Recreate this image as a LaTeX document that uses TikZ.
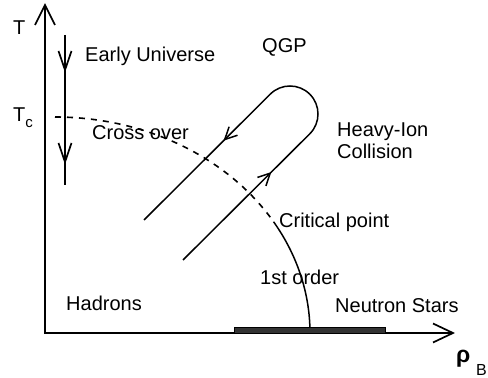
\documentclass[tikz,border=0pt]{standalone}
\usepackage{fontspec}
\setmainfont{Liberation Sans}
\usetikzlibrary{decorations.markings}
\newcommand\mychev[3]{\draw[line width=#3,line join=miter,line cap=butt] (-#1,#2) -- (0,0) -- (-#1,-#2);}
\newcommand\mychevrev[3]{\draw[line width=#3,line join=miter,line cap=butt] (#1,#2) -- (0,0) -- (#1,-#2);}
\tikzset{
  axis/.style={line width=1.7pt,postaction={decorate},decoration={markings,
     mark=at position 0 with {\mychevrev{20}{10}{1.7pt}},
     mark=at position 1 with {\mychev{20}{9.5}{1.7pt}}}},
  curve/.style={line width=1.5pt},
  dashcurve/.style={line width=1.6pt,dash pattern=on 6pt off 6pt},
  lbl/.style={inner sep=0pt,anchor=base west,font=\fontsize{20}{24}\selectfont},
  euline/.style={line width=1.7pt,postaction={decorate},decoration={markings,
     mark=at position 35pt with {\mychev{19}{6.5}{1.7pt}},
     mark=at position 127pt with {\mychev{19}{6.5}{1.7pt}}}},
  hiloop/.style={line width=1.5pt,postaction={decorate},decoration={markings,
     mark=at position 123pt with {\mychev{12}{6}{1.5pt}},
     mark=at position 331pt with {\mychev{12}{6}{1.5pt}}}},
  bar/.style={draw=black,fill=black!80,line width=0.6pt}
}
\begin{document}
\begin{tikzpicture}[x=1pt,y=1pt]
\useasboundingbox (0,0) rectangle (488,378);
% axes
\coordinate (Ttip) at (45,373);
\coordinate (Rtip) at (453,45);
\draw[axis] (Ttip) |- (Rtip);
% early universe
\coordinate (eu1) at (65,343);
\coordinate (eu2) at (65,193);
\draw[euline] (eu1) -- (eu2);
% phase boundary
\coordinate (tc) at (55,261);
\draw[dashcurve] (tc) arc[start angle=90,end angle=31,x radius=255,y radius=216] coordinate (cp);
\draw[curve] (cp) arc[start angle=31,end angle=0,x radius=255,y radius=216] coordinate (ns);
% neutron star bar
\draw[bar] (234,45) rectangle (385,51);
% heavy ion loop
\coordinate (h1) at (183,118);
\coordinate (h2) at (309.8,244.2);
\coordinate (h4) at (144,158);
\draw[hiloop] (h1) -- (h2) arc[start angle=-45,end angle=135,radius=28] -- (h4);
% labels
\node[lbl] (T) at (13,343) {T};
\node[lbl] (Tc) at (13,256) {T\raisebox{-6pt}{\fontsize{15}{15}\selectfont c}};
\node[lbl] (eu) at (85,316) {Early Universe};
\node[lbl] (qgp) at (262,325) {QGP};
\node[lbl] (co) at (92,238) {Cross over};
\node[lbl] (hi1) at (337,241) {Heavy-Ion};
\node[lbl] (hi2) at (337,219) {Collision};
\node[lbl] (crit) at (279,150) {Critical point};
\node[lbl] (fo) at (260,93) {1st order};
\node[lbl] (nsl) at (335,65) {Neutron Stars};
\node[lbl] (had) at (66,67) {Hadrons};
\node[inner sep=0pt,anchor=base west,font=\fontsize{23}{24}\selectfont\bfseries] (rho) at (456,15) {ρ};
\node[inner sep=0pt,anchor=base west,font=\fontsize{16}{18}\selectfont] (B) at (476,2) {B};
\end{tikzpicture}
\end{document}
